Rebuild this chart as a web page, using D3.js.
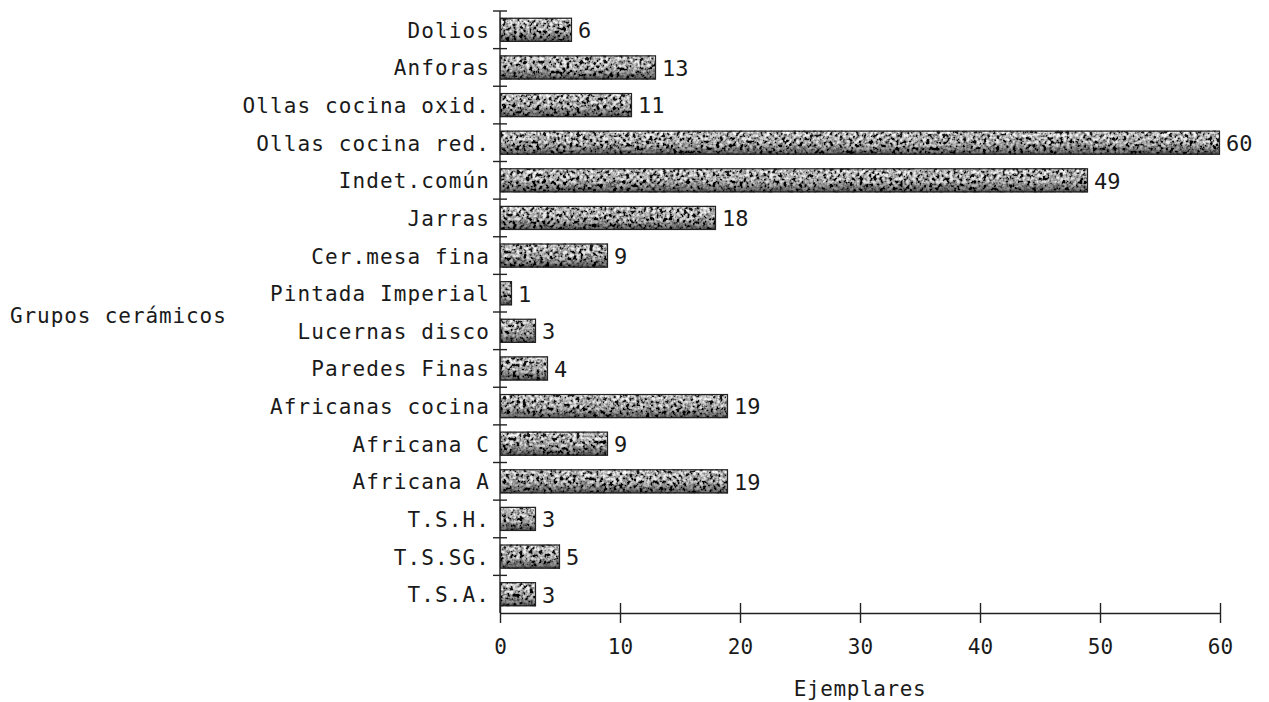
<!DOCTYPE html>
<html>
<head>
<meta charset="utf-8">
<script src="https://cdn.jsdelivr.net/npm/d3@7"></script>
<style>
  body { margin: 0; background: #fff; }
  text { font-family: "DejaVu Sans Mono", "Liberation Mono", monospace; fill: #1a1a1a; }
</style>
</head>
<body>
<svg id="chart" width="1269" height="702"></svg>
<script>
var categories = ["Dolios", "Anforas", "Ollas cocina oxid.", "Ollas cocina red.", "Indet.común",
  "Jarras", "Cer.mesa fina", "Pintada Imperial", "Lucernas disco", "Paredes Finas",
  "Africanas cocina", "Africana C", "Africana A", "T.S.H.", "T.S.SG.", "T.S.A."];
var counts = [6, 13, 11, 60, 49, 18, 9, 1, 3, 4, 19, 9, 19, 3, 5, 3];
var xTicks = [0, 10, 20, 30, 40, 50, 60];

var data = categories.map(function(c, i) { return {name: c, value: counts[i]}; });

var margin = {top: 11, left: 500, right: 49, bottom: 89};
var width = 1269 - margin.left - margin.right;
var height = 702 - margin.top - margin.bottom;

var svg = d3.select("#chart");

// grainy scanned-looking fill
var defs = svg.append("defs");
var f = defs.append("filter").attr("id", "grain")
    .attr("x", 0).attr("y", 0).attr("width", 1).attr("height", 1);
f.append("feTurbulence").attr("type", "fractalNoise")
    .attr("baseFrequency", "0.3").attr("numOctaves", 2).attr("seed", 7).attr("result", "n");
f.append("feColorMatrix").attr("in", "n").attr("type", "matrix")
    .attr("values", "0.33 0.33 0.33 0 0  0.33 0.33 0.33 0 0  0.33 0.33 0.33 0 0  0 0 0 0 1")
    .attr("result", "g");
var ct = f.append("feComponentTransfer").attr("in", "g").attr("result", "c");
["feFuncR", "feFuncG", "feFuncB"].forEach(function(k) {
  ct.append(k).attr("type", "linear").attr("slope", 5).attr("intercept", -2.05);
});
f.append("feComposite").attr("in", "c").attr("in2", "SourceGraphic").attr("operator", "in");

var shade = defs.append("linearGradient").attr("id", "shade")
    .attr("x1", 0).attr("y1", 0).attr("x2", 0).attr("y2", 1);
shade.append("stop").attr("offset", "0%").attr("stop-color", "#fff").attr("stop-opacity", 0.12);
shade.append("stop").attr("offset", "55%").attr("stop-color", "#000").attr("stop-opacity", 0.12);
shade.append("stop").attr("offset", "100%").attr("stop-color", "#000").attr("stop-opacity", 0.6);

var g = svg.append("g")
    .attr("transform", "translate(" + margin.left + "," + margin.top + ")");

var x = d3.scaleLinear().domain([0, 60]).range([0, width]);
var y = d3.scaleBand().domain(categories).range([0, height]).paddingInner(0.36).paddingOuter(0.18);

// bars
g.selectAll("rect.bar")
  .data(data)
  .enter().append("rect")
    .attr("class", "bar")
    .attr("x", 0)
    .attr("y", function(d) { return y(d.name); })
    .attr("width", function(d) { return x(d.value); })
    .attr("height", y.bandwidth())
    .attr("fill", "#666")
    .attr("filter", "url(#grain)");

g.selectAll("rect.shade")
  .data(data)
  .enter().append("rect")
    .attr("class", "shade")
    .attr("x", 0)
    .attr("y", function(d) { return y(d.name); })
    .attr("width", function(d) { return x(d.value); })
    .attr("height", y.bandwidth())
    .attr("fill", "url(#shade)");

g.selectAll("rect.edge")
  .data(data)
  .enter().append("rect")
    .attr("class", "edge")
    .attr("x", 0.5)
    .attr("y", function(d) { return y(d.name) + 0.5; })
    .attr("width", function(d) { return x(d.value) - 1; })
    .attr("height", y.bandwidth() - 1)
    .attr("fill", "none")
    .attr("stroke", "#222")
    .attr("stroke-width", 1.2);

// value labels
g.selectAll("text.val")
  .data(data)
  .enter().append("text")
    .attr("class", "val")
    .attr("x", function(d) { return x(d.value) + 6; })
    .attr("y", function(d) { return y(d.name) + y.bandwidth() / 2; })
    .attr("dy", "0.38em")
    .style("font-size", "22px")
    .text(function(d) { return d.value; });

// x axis
var xaxis = d3.axisBottom(x).tickValues(xTicks).tickSize(0).tickPadding(26);
var xa = g.append("g")
    .attr("transform", "translate(0," + height + ")")
    .call(xaxis);
xa.select(".domain").attr("stroke", "#222").attr("stroke-width", 1.4);
xa.selectAll(".tick").append("line")
    .attr("y1", -10).attr("y2", 10).attr("stroke", "#222").attr("stroke-width", 1.4);
xa.selectAll(".tick text")
    .style("font-size", "21px").style("font-family", "\"DejaVu Sans Mono\", monospace")
    .attr("fill", "#1a1a1a");

// y axis
var ya = g.append("g");
ya.append("line")
    .attr("x1", 0).attr("x2", 0).attr("y1", 0).attr("y2", height)
    .attr("stroke", "#222").attr("stroke-width", 1.4);
var step = y.step();
var bounds = categories.map(function(c) { return y(c) - y.paddingInner() * step / 2; });
ya.selectAll("line.tick")
  .data(bounds)
  .enter().append("line")
    .attr("class", "tick")
    .attr("x1", -7).attr("x2", 7)
    .attr("y1", function(d) { return d; }).attr("y2", function(d) { return d; })
    .attr("stroke", "#222").attr("stroke-width", 1.4);

g.selectAll("text.cat")
  .data(categories)
  .enter().append("text")
    .attr("class", "cat")
    .attr("x", -10)
    .attr("y", function(d) { return y(d) + y.bandwidth() / 2; })
    .attr("dy", "0.38em")
    .attr("text-anchor", "end")
    .style("font-size", "21px")
    .style("letter-spacing", "1.1px")
    .text(function(d) { return d; });

// axis titles
svg.append("text")
    .attr("x", 860).attr("y", 696)
    .attr("text-anchor", "middle")
    .style("font-size", "21px")
    .style("letter-spacing", "0.6px")
    .text("Ejemplares");

svg.append("text")
    .attr("x", 10).attr("y", 323)
    .style("font-size", "21px")
    .style("letter-spacing", "0.9px")
    .text("Grupos cerámicos");
</script>
</body>
</html>
